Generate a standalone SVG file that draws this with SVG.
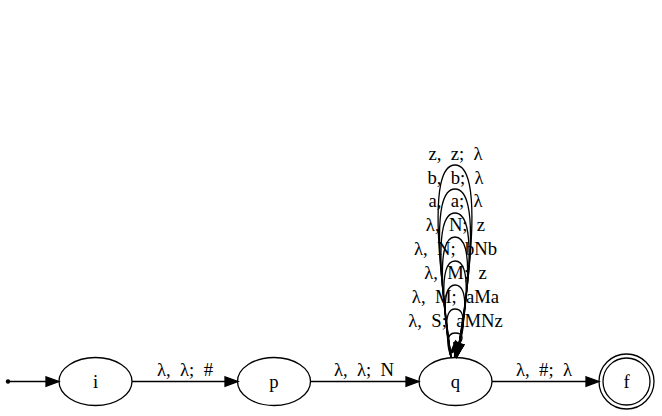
<svg xmlns="http://www.w3.org/2000/svg" width="662" height="416" viewBox="0 0 662 416" xml:space="preserve">
<style>
text{font-family:"Liberation Serif","Times New Roman",serif;font-size:18.67px;fill:#000;text-anchor:middle;white-space:pre}
.n{fill:none;stroke:#000;stroke-width:1.3}
.e{fill:none;stroke:#000;stroke-width:1.3}
</style>
<defs>
<marker id="ah" markerUnits="userSpaceOnUse" markerWidth="14" markerHeight="11" refX="0" refY="4.7" orient="auto" overflow="visible">
<path d="M0,0 L13,4.7 L0,9.4 z" fill="#000" stroke="#000" stroke-width="1.3"/>
</marker>
</defs>
<rect width="662" height="416" fill="#fff"/>
<g id="connectors">
<circle cx="8" cy="381.5" r="2.2" fill="#000"/>
<path class="e" d="M10,381.5 L46,381.5" marker-end="url(#ah)"/>
<path class="e" d="M132,381.5 L225,381.5" marker-end="url(#ah)"/>
<text x="185" y="376">λ,  λ;  #</text>
<path class="e" d="M310,381.5 L406,381.5" marker-end="url(#ah)"/>
<text x="364" y="376">λ,  λ;  N</text>
<path class="e" d="M492,381.5 L586,381.5" marker-end="url(#ah)"/>
<text x="544" y="376">λ,  #;  λ</text>
<g id="loops">
<path class="e" d="M451,357 C440.8,280.2 426.1,165 455,165 C483.9,165 469.2,281.4 459,344" marker-end="url(#ah)"/>
<text x="455.5" y="160">z,  z;  λ</text>
<path class="e" d="M451,357 C441.8,289.8 428.8,189 455,189 C481.2,189 468.2,289.8 459,344" marker-end="url(#ah)"/>
<text x="455.5" y="183.5">b,  b;  λ</text>
<path class="e" d="M451,357 C442.7,299.4 431.5,213 455,213 C478.5,213 467.3,298.2 459,344" marker-end="url(#ah)"/>
<text x="455.5" y="207">a,  a;  λ</text>
<path class="e" d="M451,357 C443.7,309 434.3,237 455,237 C475.7,237 466.3,306.6 459,344" marker-end="url(#ah)"/>
<text x="455.5" y="231">λ,  N;  z</text>
<path class="e" d="M451,357 C444.6,318.6 437,261 455,261 C473,261 465.4,315 459,344" marker-end="url(#ah)"/>
<text x="455.5" y="255">λ,  N;  bNb</text>
<path class="e" d="M451,357 C445.6,328.2 439.7,285 455,285 C470.3,285 464.4,323.4 459,344" marker-end="url(#ah)"/>
<text x="455.5" y="279">λ,  M;  z</text>
<path class="e" d="M451,357 C446.6,337.8 442.4,309 455,309 C467.6,309 463.4,331.8 459,344" marker-end="url(#ah)"/>
<text x="455.5" y="303">λ,  M;  aMa</text>
<path class="e" d="M451,357 C447.5,347.4 445.1,333 455,333 C464.9,333 462.5,340.2 459,344" marker-end="url(#ah)"/>
<text x="455.5" y="327">λ,  S;  aMNz</text>
</g>
</g>
<g id="node-i"><ellipse class="n" cx="95.5" cy="381.5" rx="36.5" ry="24"/><text x="95.5" y="388">i</text></g>
<g id="node-p"><ellipse class="n" cx="274" cy="381.5" rx="36.5" ry="24"/><text x="274" y="388">p</text></g>
<g id="node-q"><ellipse class="n" cx="455.5" cy="381.5" rx="36.5" ry="24"/><text x="455.5" y="388">q</text></g>
<g id="node-f"><circle class="n" cx="626.5" cy="381.5" r="27.5"/><circle class="n" cx="626.5" cy="381.5" r="23.5"/><text x="626.5" y="388">f</text></g>
</svg>
